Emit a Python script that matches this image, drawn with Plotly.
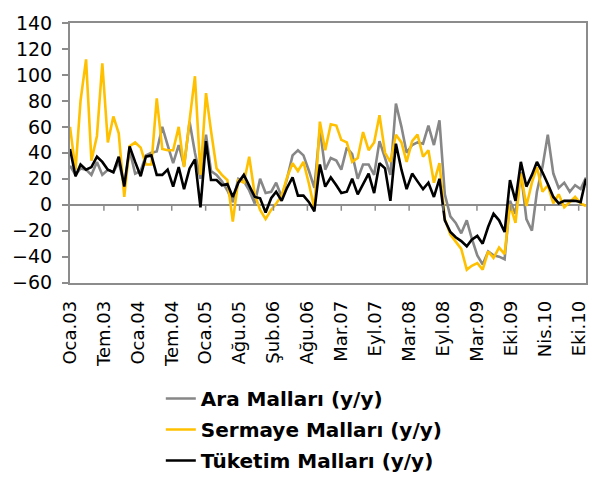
import pandas as pd
import plotly.graph_objects as go

# Monthly observations, Jan 2003 - Dec 2010
months = pd.date_range("2003-01-01", "2010-12-01", freq="MS")

ara_mallari = [
    30, 23, 28, 27, 23, 33, 23, 27, 25, 33, 15, 42,
    24, 26, 38, 40, 41, 60, 46, 32, 46, 30, 64, 40,
    20, 54, 26, 23, 18, 11, 2, 20, 18, 11, 1, 20,
    9, 10, 17, 6, 20, 38, 42, 38, 26, 13, 58, 27,
    36, 34, 27, 44, 39, 20, 31, 31, 23, 49, 36, 23,
    78, 60, 40, 46, 48, 47, 61, 46, 65, 8, -9, -14,
    -22, -12, -26, -39, -46, -36, -39, -40, -42, 3, -7, 25,
    -11, -20, 10, 29, 54, 24, 13, 17, 10, 15, 12, 21,
]

sermaye_mallari = [
    60, 27, 80, 112, 34, 53, 109, 48, 68, 55, 6, 45,
    48, 44, 31, 31, 82, 43, 42, 42, 60, 29, 65, 99,
    23, 86, 57, 28, 23, 19, -13, 19, 17, 37, 8, -4,
    -11, -4, 1, 7, 21, 32, 26, 33, 16, -3, 64, 42,
    62, 61, 50, 48, 33, 36, 56, 42, 48, 69, 40, 33,
    54, 48, 33, 49, 54, 37, 42, 17, 32, -11, -23, -28,
    -34, -50, -47, -45, -50, -36, -41, -33, -38, 0, -14, 24,
    -1, 17, 29, 10, 15, 1, 8, -2, 2, 6, 1, -1,
]

tuketim_mallari = [
    43, 22, 31, 27, 29, 37, 33, 27, 25, 37, 14, 45,
    33, 22, 37, 38, 23, 23, 27, 14, 29, 12, 28, 35,
    -2, 49, 19, 19, 15, 16, 6, 17, 23, 15, 6, 5,
    -6, 5, 10, 3, 13, 21, 7, 7, 2, -5, 31, 14,
    21, 15, 9, 10, 20, 8, 16, 24, 9, 32, 28, 3,
    47, 27, 12, 24, 18, 12, 17, 6, 20, -12, -21, -25,
    -28, -32, -27, -24, -30, -17, -7, -12, -21, 19, 3, 33,
    14, 23, 33, 25, 16, 6, 1, 3, 3, 3, 2, 20,
]

tick_labels = [
    "Oca.03", "Tem.03", "Oca.04", "Tem.04", "Oca.05", "Ağu.05",
    "Şub.06", "Ağu.06", "Mar.07", "Eyl.07", "Mar.08", "Eyl.08",
    "Mar.09", "Eki.09", "Nis.10", "Eki.10",
]
tick_dates = pd.date_range("2003-01-01", periods=len(tick_labels), freq="190D")

series = [
    ("Ara Malları (y/y)", ara_mallari, "#878787"),
    ("Sermaye Malları (y/y)", sermaye_mallari, "#FFC000"),
    ("Tüketim Malları (y/y)", tuketim_mallari, "#000000"),
]

AXIS = "#8c8c8c"
FONT = "DejaVu Sans"

fig = go.Figure()
for name, values, color in series:
    fig.add_trace(go.Scatter(
        x=months, y=values, name=name, legendgroup=name, mode="lines",
        line=dict(color=color, width=2.6),
    ))

# short downward tick marks on the zero line
for d in tick_dates[1:]:
    fig.add_shape(
        type="line", xref="x", yref="y", x0=d, x1=d,
        ysizemode="pixel", yanchor=0, y0=0, y1=-6,
        line=dict(color=AXIS, width=1.5),
    )

fig.update_layout(
    width=600, height=485,
    margin=dict(l=67, r=12, t=12, b=202),
    paper_bgcolor="white", plot_bgcolor="white",
    font=dict(family=FONT, color="#000000"),
    showlegend=True,
    legend=dict(
        x=0.176, xanchor="left",
        yref="container", y=1 - 379 / 485, yanchor="top",
        font=dict(family=FONT, size=20, color="#000000", weight="bold"),
        bgcolor="rgba(0,0,0,0)", tracegroupgap=2,
    ),
    xaxis=dict(
        type="date",
        range=[months[0], months[-1]],
        tickvals=tick_dates, ticktext=tick_labels,
        tickangle=-90, ticks="", ticklabelstandoff=9,
        showgrid=False, zeroline=False,
        showline=True, mirror=True, linecolor=AXIS, linewidth=2,
        tickfont=dict(family=FONT, size=18),
    ),
    yaxis=dict(
        range=[-60, 140], tickvals=list(range(-60, 141, 20)),
        ticks="outside", ticklen=6, tickcolor=AXIS, tickwidth=1.5,
        ticklabelstandoff=6,
        showgrid=False,
        zeroline=True, zerolinecolor=AXIS, zerolinewidth=2,
        showline=True, mirror=True, linecolor=AXIS, linewidth=2,
        tickfont=dict(family=FONT, size=19),
    ),
)

fig.write_html("out.html")
